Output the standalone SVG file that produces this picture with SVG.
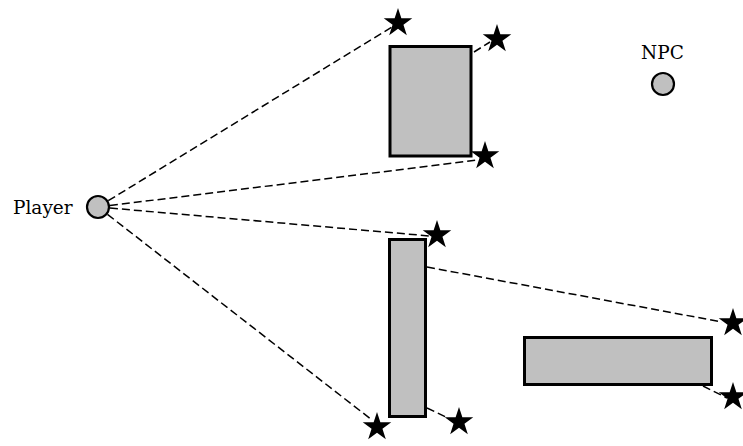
<svg xmlns="http://www.w3.org/2000/svg" width="743" height="446" viewBox="0 0 743 446">
<style>
.ray{stroke:#000;stroke-width:1.5;stroke-dasharray:8,4;fill:none}
.wall{fill:#c0c0c0;stroke:#000;stroke-width:3}
.agent{fill:#c0c0c0;stroke:#000;stroke-width:2.2}
.lbl{font-family:"DejaVu Serif","Liberation Serif",serif;font-size:18.5px;fill:#000}
.star{fill:#000}
</style>
<defs>
<polygon id="star" points="0,-15 3.37,-4.64 14.27,-4.64 5.45,1.77 8.82,12.14 0,5.73 -8.82,12.14 -5.45,1.77 -14.27,-4.64 -3.37,-4.64"/>
</defs>
<g id="connectors">
<line class="ray" x1="98" y1="207" x2="392" y2="27"/>
<line class="ray" x1="474" y1="52" x2="490" y2="42"/>
<line class="ray" x1="98" y1="207" x2="478" y2="160"/>
<line class="ray" x1="98" y1="207" x2="430" y2="236"/>
<line class="ray" x1="427" y1="267" x2="722" y2="322"/>
<line class="ray" x1="98" y1="207" x2="372" y2="420"/>
<line class="ray" x1="427" y1="408" x2="448" y2="418"/>
<line class="ray" x1="703" y1="386" x2="727" y2="398"/>
</g>
<g id="wall1"><rect class="wall" x="390" y="46.5" width="81" height="109.5"/></g>
<g id="wall2"><rect class="wall" x="389.5" y="239.5" width="36" height="177"/></g>
<g id="wall3"><rect class="wall" x="524.5" y="337.5" width="187" height="47"/></g>
<g id="player">
<circle class="agent" cx="98" cy="207" r="11"/>
<text class="lbl" x="13" y="213.5">Player</text>
</g>
<g id="npc">
<circle class="agent" cx="663" cy="84" r="11"/>
<text class="lbl" x="662.5" y="59" text-anchor="middle">NPC</text>
</g>
<g id="stars">
<use class="star" href="#star" x="398" y="23"/>
<use class="star" href="#star" x="497" y="39"/>
<use class="star" href="#star" x="485" y="156"/>
<use class="star" href="#star" x="437" y="235"/>
<use class="star" href="#star" x="733" y="323"/>
<use class="star" href="#star" x="733" y="397"/>
<use class="star" href="#star" x="377" y="427"/>
<use class="star" href="#star" x="459" y="422"/>
</g>
</svg>
